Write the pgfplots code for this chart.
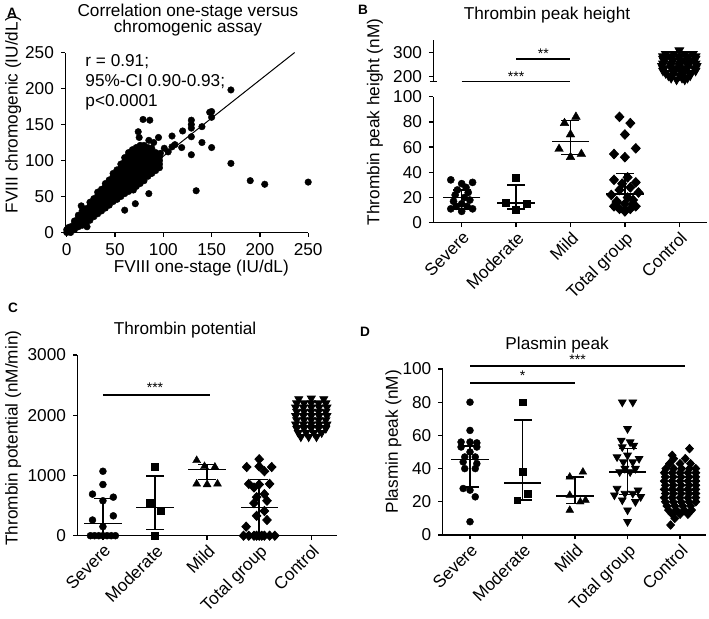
\documentclass[border=0pt]{standalone}
\usepackage{pgfplots}
\pgfplotsset{compat=1.18}
\usepackage{fontspec}
\setmainfont{Liberation Sans}
\newcommand\fsz{\fontsize{8.6}{9}\selectfont}
\newcommand\stars{\fontsize{7}{7}\selectfont}
\pgfplotsset{
  panel/.style={
    scale only axis, clip=false,
    axis x line*=bottom, axis y line*=left,
    tick align=outside, major tick length=2.2pt,
    axis line style={line width=0.65pt},
    every tick/.style={line width=0.65pt, black},
    font=\fsz, tick label style={font=\fsz},
    /pgf/number format/assume math mode=true,
    /pgf/number format/1000 sep={},
    title style={font=\fontsize{8.6}{8.4}\selectfont, align=center, anchor=center, yshift=-6pt},
    ylabel style={anchor=center},
    xlabel style={anchor=center},
  },
  cat/.style={xmin=-0.52, xmax=4.5, xtick={0,1,2,3,4},
    xticklabels={Severe,Moderate,Mild,Total group,Control},
    xticklabel style={rotate=45, anchor=north east, inner sep=1pt}},
  pts/.style={only marks, mark options={fill=black, draw=black, line width=0.2pt}},
  med/.style={only marks, mark=-, mark size=9.3pt, mark options={line width=0.8pt},
    error bars/y dir=both, error bars/y explicit, error bars/error mark=none,
    error bars/error bar style={line width=0.8pt}},
  cap/.style={only marks, mark=-, mark size=4.5pt, mark options={line width=0.8pt}},
  sig/.style={line width=0.8pt, mark=none},
}
\begin{document}
\begin{tikzpicture}
\path[use as bounding box] (0,0) rectangle (354.5pt,309pt);

% panel letters
\node[font=\fontsize{6.8}{7}\selectfont\bfseries] at (6pt,302.5pt) {A};
\node[font=\fontsize{6.8}{7}\selectfont\bfseries] at (181.5pt,304pt) {B};
\node[font=\fontsize{6.8}{7}\selectfont\bfseries] at (6.5pt,155pt) {C};
\node[font=\fontsize{6.8}{7}\selectfont\bfseries] at (182.5pt,143pt) {D};

% ---------------- A
\begin{axis}[panel, at={(32.65pt,192.75pt)}, anchor=south west,
    width=121.45pt, height=90pt,
    xmin=-1.5, xmax=250, ymin=0, ymax=250,
    xtick={0,50,...,250}, ytick={0,50,...,250},
    title={Correlation one-stage versus\\chromogenic assay},
    title style={at={(axis description cs:0.505,1.18)}},
    xlabel={FVIII one-stage (IU/dL)},
    xlabel style={at={(axis description cs:0.56,-0.197)}},
    ylabel={FVIII chromogenic (IU/dL)},
    ylabel style={at={(axis description cs:-0.215,0.655)}},
]
\addplot[pts, mark=*, mark size=1.65pt] coordinates {
(0,0)(0,4)(2,2)(2,7)(4,0)(4,4)(4,8)
(8,4)(8,8)(8,12)(8,16)
(12,8)(12,12)(12,16)(12,20)(12,24)
(16,10)(16,15)(16,20)(16,25)(16,30)
(20,13)(20,18)(20,23)(20,28)(20,33)
(24,17)(24,22)(24,27)(24,32)(24,37)(24,42)
(28,22)(28,27)(28,32)(28,37)(28,42)(28,47)
(32,26)(32,31)(32,36)(32,41)(32,46)(32,51)(32,56)
(36,30)(36,35)(36,40)(36,45)(36,50)(36,55)(36,60)
(40,34)(40,39)(40,44)(40,49)(40,54)(40,59)(40,64)(40,68)
(44,38)(44,43)(44,48)(44,53)(44,58)(44,63)(44,68)(44,73)
(48,43)(48,48)(48,53)(48,58)(48,63)(48,68)(48,73)(48,78)(48,82)
(52,47)(52,52)(52,57)(52,62)(52,67)(52,72)(52,77)(52,82)(52,87)
(56,50)(56,55)(56,60)(56,65)(56,70)(56,75)(56,80)(56,85)(56,90)(56,95)
(60,54)(60,59)(60,64)(60,69)(60,74)(60,79)(60,84)(60,89)(60,94)(60,99)(60,104)
(64,57)(64,62)(64,67)(64,72)(64,77)(64,82)(64,87)(64,92)(64,97)(64,102)(64,107)(64,111)
(68,60)(68,65)(68,70)(68,75)(68,80)(68,85)(68,90)(68,95)(68,100)(68,105)(68,110)(68,115)
(72,64)(72,69)(72,74)(72,79)(72,84)(72,89)(72,94)(72,99)(72,104)(72,109)(72,114)(72,118)
(76,68)(76,73)(76,78)(76,83)(76,88)(76,93)(76,98)(76,103)(76,108)(76,113)(76,118)(76,121)
(80,72)(80,77)(80,82)(80,87)(80,92)(80,97)(80,102)(80,107)(80,112)(80,117)(80,121)
(84,78)(84,83)(84,88)(84,93)(84,98)(84,103)(84,108)(84,113)(84,118)
(88,82)(88,87)(88,92)(88,97)(88,102)(88,107)(88,112)(88,117)
(92,86)(92,91)(92,96)(92,101)(92,106)(92,111)
(96,90)(96,95)(96,100)(96,105)
(15,37)(21,8)(52,46)(60,31)(71,40)(85,54)(69,59)
(74,140)(75,132)(79,157)(86,156)(95,132)(97,110)(101,117)(109,119)(109,134)
(119,118)(120,141)(112,122)(105,112)(90,125)(85,128)
(129,156)(129,150)(129,145)(129,133)(129,108)(134,58)
(140,147)(140,125)(148,167)(150,168)(150,160)(150,118)
(170,198)(170,96)(190,72)(205,67)(250,70)
};
\addplot[line width=0.5pt, mark=none] coordinates {(0,0) (236,250)};
\node[anchor=west, inner sep=0pt] at (axis cs:19,237) {r = 0.91;};
\node[anchor=west, inner sep=0pt] at (axis cs:19,209) {95\%-CI 0.90-0.93;};
\node[anchor=west, inner sep=0pt] at (axis cs:19,181.5) {p<0.0001};
\end{axis}

% ---------------- B lower
\begin{axis}[panel, cat, at={(216.7pt,197.65pt)}, anchor=south west,
    width=136.55pt, height=63pt,
    ymin=0, ymax=100, ytick={0,20,...,100},
    ylabel={Thrombin peak height (nM)},
    ylabel style={at={(axis description cs:-0.214,0.80)}},
]
\addplot[pts, mark=*, mark size=1.8pt] coordinates {
(-0.2,34)(0,31)(0.2,32)(0.08,28)(-0.08,26)(0.12,24)(-0.12,22)(0.05,20)
(-0.15,17)(0.15,18)(0,15)(-0.1,13)(0.1,13)(-0.2,11)(0.2,11)(0,9)};
\addplot[pts, mark=square*, mark size=1.75pt] coordinates {
(1,36)(0.8,16)(1.2,15)(1,10)};
\addplot[pts, mark=triangle*, mark size=2.5pt] coordinates {
(1.89,79)(2.1,84)(2,70)(1.79,58.5)(2,52)(2.2,54.5)};
\addplot[pts, mark=diamond*, mark size=2.4pt, mark options={xscale=1.25}] coordinates {
(2.9,84)(3.1,79)(3,70)(2.8,54.5)(3.2,59)(3,52)
(3.05,36)(2.85,16)(3.15,15)(3,10)
(2.8,34)(3.2,32)(2.95,31)(3.1,28)(2.9,26)(3.25,24)(2.75,22)(3.05,20)
(2.85,17)(3.15,18)(3,15)(2.8,13)(3.2,13)(2.9,11)(3.1,11)(3,9)};
\addplot[med] coordinates {
(0,20) += (0,6) -= (0,9)
(1,15.5) += (0,14.5) -= (0,4.5)
(2,64.5) += (0,16.5) -= (0,10.5)
(3,23) += (0,16) -= (0,11)};
\addplot[cap] coordinates {(0,26)(0,11)(1,30)(1,11)(2,81)(2,54)(3,39)(3,12)};
\end{axis}

% ---------------- B upper
\begin{axis}[panel, at={(216.7pt,268.25pt)}, anchor=south west,
    width=136.55pt, height=20.75pt,
    xmin=-0.52, xmax=4.5, ymin=180, ymax=353,
    axis x line=none, ytick={200,300},
    extra y ticks={180}, extra y tick labels={},
    extra y tick style={tick align=center, major tick length=3.5pt},
    title={Thrombin peak height},
    title style={at={(axis description cs:0.416,1.60)}},
]
\addplot[pts, mark=triangle*, mark size=2.5pt, mark options={rotate=180}] coordinates {
(4,310)
(3.75,295)(3.9,295)(4.1,295)(4.25,295)
(3.7,285)(3.85,285)(4,285)(4.15,285)(4.3,285)
(3.7,275)(3.85,275)(4,275)(4.15,275)(4.3,275)
(3.72,265)(3.88,265)(4.05,265)(4.2,265)
(3.7,255)(3.85,255)(4,255)(4.15,255)(4.3,255)
(3.68,245)(3.84,245)(4,245)(4.16,245)(4.32,245)
(3.7,235)(3.85,235)(4,235)(4.15,235)(4.3,235)
(3.7,225)(3.9,225)(4.1,225)(4.3,225)
(3.75,215)(3.9,215)(4.05,215)(4.2,215)
(3.8,205)(4,205)(4.2,205)
(3.85,195)(4.05,195)(4.15,195)
(3.95,188)(4.1,188)};
\addplot[med] coordinates {(4,241) += (0,29) -= (0,26)};
\addplot[sig] coordinates {(0,180) (2,180)};
\addplot[sig] coordinates {(1,274) (2,274)};
\node[font=\stars, anchor=base] at (axis cs:1,182) {***};
\node[font=\stars, anchor=base] at (axis cs:1.5,276) {**};
\end{axis}

% ---------------- C
\begin{axis}[panel, cat, at={(38.7pt,41.15pt)}, anchor=south west,
    width=129.7pt, height=90.35pt,
    xmin=-0.49, xmax=4.49,
    ymin=0, ymax=3000, ytick={0,1000,2000,3000},
    title={Thrombin potential},
    title style={at={(axis description cs:0.415,1.138)}},
    ylabel={Thrombin potential (nM/min)},
    ylabel style={at={(axis description cs:-0.248,0.54)}},
]
\addplot[pts, mark=*, mark size=1.75pt] coordinates {
(0,1070)(0,850)(-0.2,690)(0.2,640)(0,580)(0.2,330)(-0.2,260)(0,150)
(-0.24,0)(-0.16,0)(-0.08,0)(0,0)(0.08,0)(0.16,0)(0.24,0)};
\addplot[pts, mark=square*, mark size=1.75pt] coordinates {
(1,1140)(0.9,540)(1.1,410)(1,0)};
\addplot[pts, mark=triangle*, mark size=2.3pt] coordinates {
(1.8,1250)(1.95,1150)(2.15,1140)(1.8,860)(2,850)(2.2,860)};
\addplot[pts, mark=diamond*, mark size=2.3pt, mark options={xscale=1.25}] coordinates {
(3,1270)(2.76,1140)(3,1150)(3.24,1140)(3.1,1070)
(2.8,860)(3.2,860)(3,850)(2.9,800)
(3.1,690)(2.95,640)(3.15,580)(2.9,540)(3.1,410)(2.95,330)(3.15,260)(2.75,150)
(2.7,0)(2.8,0)(2.9,0)(3,0)(3.1,0)(3.2,0)(3.3,0)(2.95,0)(3.05,0)};
\addplot[pts, mark=triangle*, mark size=2.3pt, mark options={rotate=180}] coordinates {
(3.76,2270)(4.0,2280)(4.24,2270)
(3.72,2200)(3.86,2200)(4,2200)(4.14,2200)(4.28,2200)
(3.7,2130)(3.85,2130)(4,2130)(4.15,2130)(4.3,2130)
(3.72,2060)(3.86,2060)(4,2060)(4.14,2060)(4.28,2060)
(3.7,1990)(3.85,1990)(4,1990)(4.15,1990)(4.3,1990)
(3.72,1920)(3.86,1920)(4,1920)(4.14,1920)(4.28,1920)
(3.7,1850)(3.85,1850)(4,1850)(4.15,1850)(4.3,1850)
(3.72,1780)(3.86,1780)(4,1780)(4.14,1780)(4.28,1780)
(3.75,1710)(3.9,1710)(4.05,1710)(4.2,1710)
(3.8,1640)(3.95,1640)(4.1,1640)};
\addplot[med] coordinates {
(0,200) += (0,420) -= (0,200)
(1,470) += (0,520) -= (0,370)
(2,1100) += (0,80) -= (0,170)
(3,470) += (0,460) -= (0,470)
(4,1820) += (0,230) -= (0,120)};
\addplot[cap] coordinates {(0,620)(0,0)(1,990)(1,100)(2,1180)(2,930)(3,930)(3,0)};
\addplot[sig] coordinates {(0,2340) (2.05,2340)};
\node[font=\stars, anchor=base] at (axis cs:1,2380) {***};
\end{axis}

% ---------------- D
\begin{axis}[panel, cat, at={(221.35pt,41.5pt)}, anchor=south west,
    width=131.8pt, height=83pt,
    ymin=0, ymax=100, ytick={0,20,...,100},
    title={Plasmin peak},
    title style={at={(axis description cs:0.434,1.145)}},
    ylabel={Plasmin peak (nM)},
    ylabel style={at={(axis description cs:-0.187,0.562)}},
]
\addplot[pts, mark=*, mark size=1.75pt] coordinates {
(0,80)(0,63)(-0.17,56)(0,56)(0.13,55.5)(-0.17,53)(0.13,53)(0,50)
(-0.1,47)(0.1,47)(-0.13,44)(0.13,43)(-0.1,40)(0.1,40)
(-0.13,28)(0,27)(0.1,23)(0,8)};
\addplot[pts, mark=square*, mark size=1.7pt] coordinates {
(1,80)(1,38)(1.1,25)(0.9,21)};
\addplot[pts, mark=triangle*, mark size=2.2pt] coordinates {
(1.9,35)(2.15,38)(1.9,24)(2.1,20)(2.2,21)(1.9,15)};
\addplot[pts, mark=triangle*, mark size=2.2pt, mark options={rotate=180}] coordinates {
(2.9,80)(3.1,80)(3,64)(2.88,57)(3.05,56)(3.12,54)(2.9,53)(2.8,47)(3.22,46)
(3,48)(2.92,44)(3.1,44)(2.95,40)(3.15,40)(3.05,38)(2.85,38)(2.8,28)(3.2,27)
(2.95,25)(3.1,25)(2.75,24)(3.25,23)(2.9,21)(3.15,20)(3,15)(3,8)};
\addplot[pts, mark=diamond*, mark size=2.1pt, mark options={xscale=1.25}] coordinates {
(4.18,52)(3.85,48)(3.88,46)(4.1,46)(3.8,43)(4,43)(4.2,43)
(3.73,40)(3.88,40)(4.03,40)(4.18,40)(4.3,40)
(3.7,37.5)(3.85,37.5)(4,37.5)(4.15,37.5)(4.3,37.5)
(3.72,35)(3.87,35)(4.02,35)(4.17,35)(4.3,35)
(3.7,32.5)(3.85,32.5)(4,32.5)(4.15,32.5)(4.3,32.5)
(3.72,30)(3.87,30)(4.02,30)(4.17,30)(4.3,30)
(3.7,27.5)(3.85,27.5)(4,27.5)(4.15,27.5)(4.3,27.5)
(3.72,25)(3.87,25)(4.02,25)(4.17,25)(4.3,25)
(3.7,22.5)(3.85,22.5)(4,22.5)(4.15,22.5)(4.3,22.5)
(3.72,20)(3.87,20)(4.02,20)(4.17,20)(4.3,20)
(3.75,17.5)(3.9,17.5)(4.05,17.5)(4.2,17.5)
(3.78,15)(3.93,15)(4.08,15)(4.22,15)
(3.85,12.5)(4,12.5)(4.15,12.5)
(3.9,10)(3.82,6)};
\addplot[med] coordinates {
(0,45.5) += (0,8.1) -= (0,16.5)
(1,31.5) += (0,37.8) -= (0,10.5)
(2,23.5) += (0,11.5) -= (0,4.5)
(3,38) += (0,14) -= (0,13.5)
(4,27) += (0,7) -= (0,7)};
\addplot[cap] coordinates {(0,53.6)(0,29)(1,69.3)(1,21)(2,35)(2,19)(3,52)(3,24.5)};
\addplot[sig] coordinates {(0,101.8) (4.1,101.8)};
\addplot[sig] coordinates {(0,91.7) (2,91.7)};
\node[font=\stars, anchor=base] at (axis cs:2.05,102.8) {***};
\node[font=\stars, anchor=base] at (axis cs:1,93) {*};
\end{axis}
\end{tikzpicture}
\end{document}
